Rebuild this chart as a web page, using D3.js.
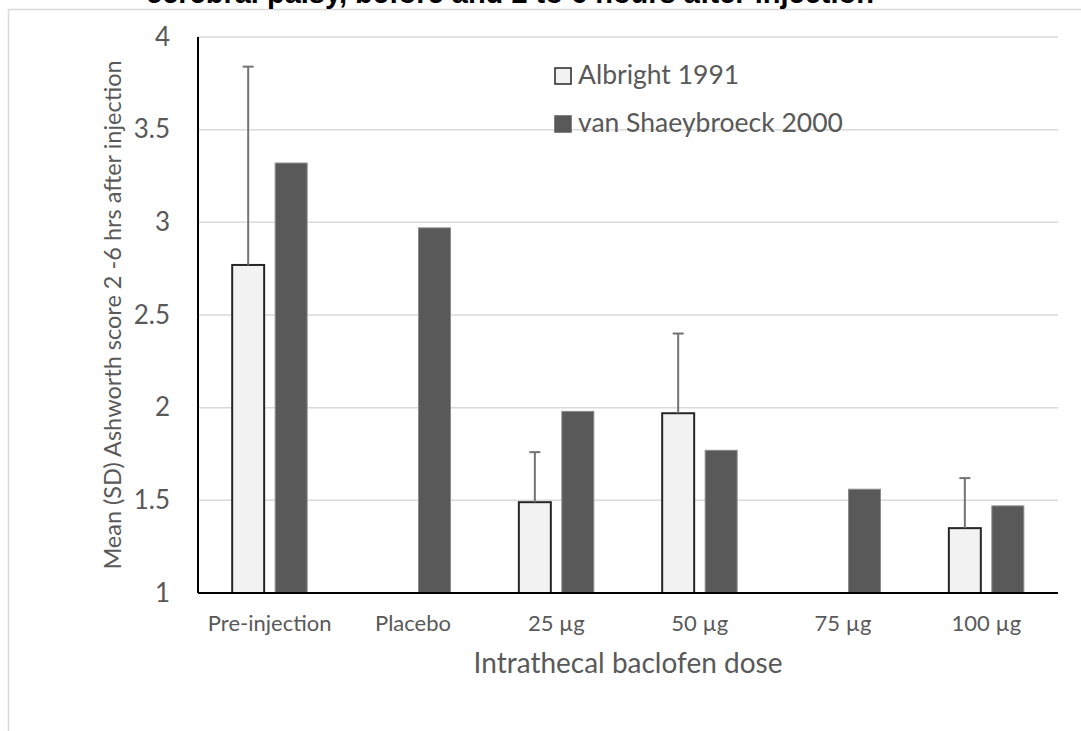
<!DOCTYPE html>
<html>
<head>
<meta charset="utf-8">
<script src="https://cdnjs.cloudflare.com/ajax/libs/d3/7.8.5/d3.min.js"></script>
<style>
  body{margin:0;background:#fff;}
  svg{display:block;}
  text{font-family:Lato,"Open Sans",sans-serif;fill:#595959;}
</style>
</head>
<body>
<div id="chart"></div>
<script>
// values
var categories=["Pre-injection","Placebo","25 µg","50 µg","75 µg","100 µg"];
var seriesNames=["Albright 1991","van Shaeybroeck 2000"];
var albright=[2.77,null,1.49,1.97,null,1.35];
var albrightSD=[1.07,null,0.27,0.43,null,0.27];
var vanShaeybroeck=[3.32,2.97,1.98,1.77,1.56,1.47];
var yTicks=[1,1.5,2,2.5,3,3.5,4];

var W=1081,H=731;
var margin={left:198,right:23,top:37,bottom:138};
var width=W-margin.left-margin.right;
var height=H-margin.top-margin.bottom;

var svg=d3.select("#chart").append("svg")
    .attr("width",W)
    .attr("height",H);

// outer chart area border (runs off the page at right/bottom)
svg.append("rect")
    .attr("x",8.5).attr("y",9.5)
    .attr("width",1200).attr("height",900)
    .attr("fill","none")
    .attr("stroke","#d9d9d9")
    .attr("stroke-width",1.5);

// title, clipped by the top of the page
svg.append("text")
    .attr("x",510).attr("y",3)
    .attr("text-anchor","middle")
    .style("font-family","'Liberation Sans',Arial,sans-serif")
    .style("font-weight","bold")
    .style("font-size","29px")
    .style("fill","#000")
    .text("cerebral palsy, before and 2 to 6 hours after injection");

var g=svg.append("g")
    .attr("transform","translate("+margin.left+","+margin.top+")");

var y=d3.scaleLinear().domain([1,4]).range([height,0]);
var x0=d3.scaleBand().domain(categories).range([0,width])
    .paddingInner(0.477).paddingOuter(0.2385);
var x1=d3.scaleBand().domain(seriesNames).range([0,x0.bandwidth()])
    .paddingInner(0.256);

// gridlines
g.selectAll(".grid")
    .data(yTicks.filter(function(d){return d>1;}))
    .enter().append("line")
    .attr("class","grid")
    .attr("x1",0).attr("x2",width)
    .attr("y1",function(d){return y(d);})
    .attr("y2",function(d){return y(d);})
    .attr("stroke","#d9d9d9")
    .attr("stroke-width",1.5);

// y axis
var yAxis=d3.axisLeft(y).tickValues(yTicks).tickSize(0).tickPadding(28)
    .tickFormat(function(d){return d3.format("")(d);});
var yg=g.append("g").call(yAxis);
yg.select(".domain").remove();
yg.selectAll("text")
    .style("font-size","26px")
    .style("fill","#595959")
    .style("font-family","Lato,sans-serif");

// x axis
var xAxis=d3.axisBottom(x0).tickSize(0).tickPadding(22);
var xg=g.append("g").attr("transform","translate(0,"+height+")").call(xAxis);
xg.select(".domain").remove();
xg.selectAll("text")
    .style("font-size","22px")
    .style("fill","#595959")
    .style("font-family","Lato,sans-serif");

// albright bars
var albData=categories.map(function(c,i){return {cat:c,value:albright[i],sd:albrightSD[i]};})
    .filter(function(d){return d.value!==null;});
var vanData=categories.map(function(c,i){return {cat:c,value:vanShaeybroeck[i]};});

g.selectAll(".bar-alb")
    .data(albData)
    .enter().append("rect")
    .attr("class","bar-alb")
    .attr("x",function(d){return x0(d.cat)+x1(seriesNames[0]);})
    .attr("y",function(d){return y(d.value);})
    .attr("width",x1.bandwidth())
    .attr("height",function(d){return y(1)-y(d.value);})
    .attr("fill","#f2f2f2")
    .attr("stroke","#262626")
    .attr("stroke-width",2);

g.selectAll(".bar-van")
    .data(vanData)
    .enter().append("rect")
    .attr("class","bar-van")
    .attr("x",function(d){return x0(d.cat)+x1(seriesNames[1]);})
    .attr("y",function(d){return y(d.value);})
    .attr("width",x1.bandwidth())
    .attr("height",function(d){return y(1)-y(d.value);})
    .attr("fill","#595959")
    .attr("stroke","#8c8c8c")
    .attr("stroke-width",1);

// error bars (upper only)
var err=g.selectAll(".err")
    .data(albData)
    .enter().append("g")
    .attr("class","err")
    .attr("transform",function(d){
        return "translate("+(x0(d.cat)+x1(seriesNames[0])+x1.bandwidth()/2)+",0)";
    });
err.append("line")
    .attr("x1",0).attr("x2",0)
    .attr("y1",function(d){return y(d.value);})
    .attr("y2",function(d){return y(d.value+d.sd);})
    .attr("stroke","#737373").attr("stroke-width",2);
err.append("line")
    .attr("x1",-5.5).attr("x2",5.5)
    .attr("y1",function(d){return y(d.value+d.sd);})
    .attr("y2",function(d){return y(d.value+d.sd);})
    .attr("stroke","#737373").attr("stroke-width",2);

// axis lines
g.append("line").attr("x1",0).attr("x2",0).attr("y1",0).attr("y2",height)
    .attr("stroke","#000").attr("stroke-width",2);
g.append("line").attr("x1",0).attr("x2",width).attr("y1",height).attr("y2",height)
    .attr("stroke","#000").attr("stroke-width",2);

// axis titles
g.append("text")
    .attr("x",width/2).attr("y",height+80)
    .attr("text-anchor","middle")
    .style("font-size","28px")
    .text("Intrathecal baclofen dose");

g.append("text")
    .attr("transform","translate(-77,"+(height/2)+") rotate(-90)")
    .attr("text-anchor","middle")
    .style("font-size","23.5px")
    .text("Mean (SD) Ashworth score 2 -6 hrs after injection");

// legend
var legendFill=["#f2f2f2","#595959"];
var legendStroke=["#262626","#595959"];
var legend=g.selectAll(".legend")
    .data(seriesNames)
    .enter().append("g")
    .attr("class","legend")
    .attr("transform",function(d,i){return "translate(357,"+(31+i*48)+")";});
legend.append("rect")
    .attr("x",0).attr("y",0)
    .attr("width",16).attr("height",16)
    .attr("fill",function(d,i){return legendFill[i];})
    .attr("stroke",function(d,i){return legendStroke[i];})
    .attr("stroke-width",1.5);
legend.append("text")
    .attr("x",23).attr("y",16)
    .style("font-size","26.5px")
    .text(function(d){return d;});
</script>
</body>
</html>
